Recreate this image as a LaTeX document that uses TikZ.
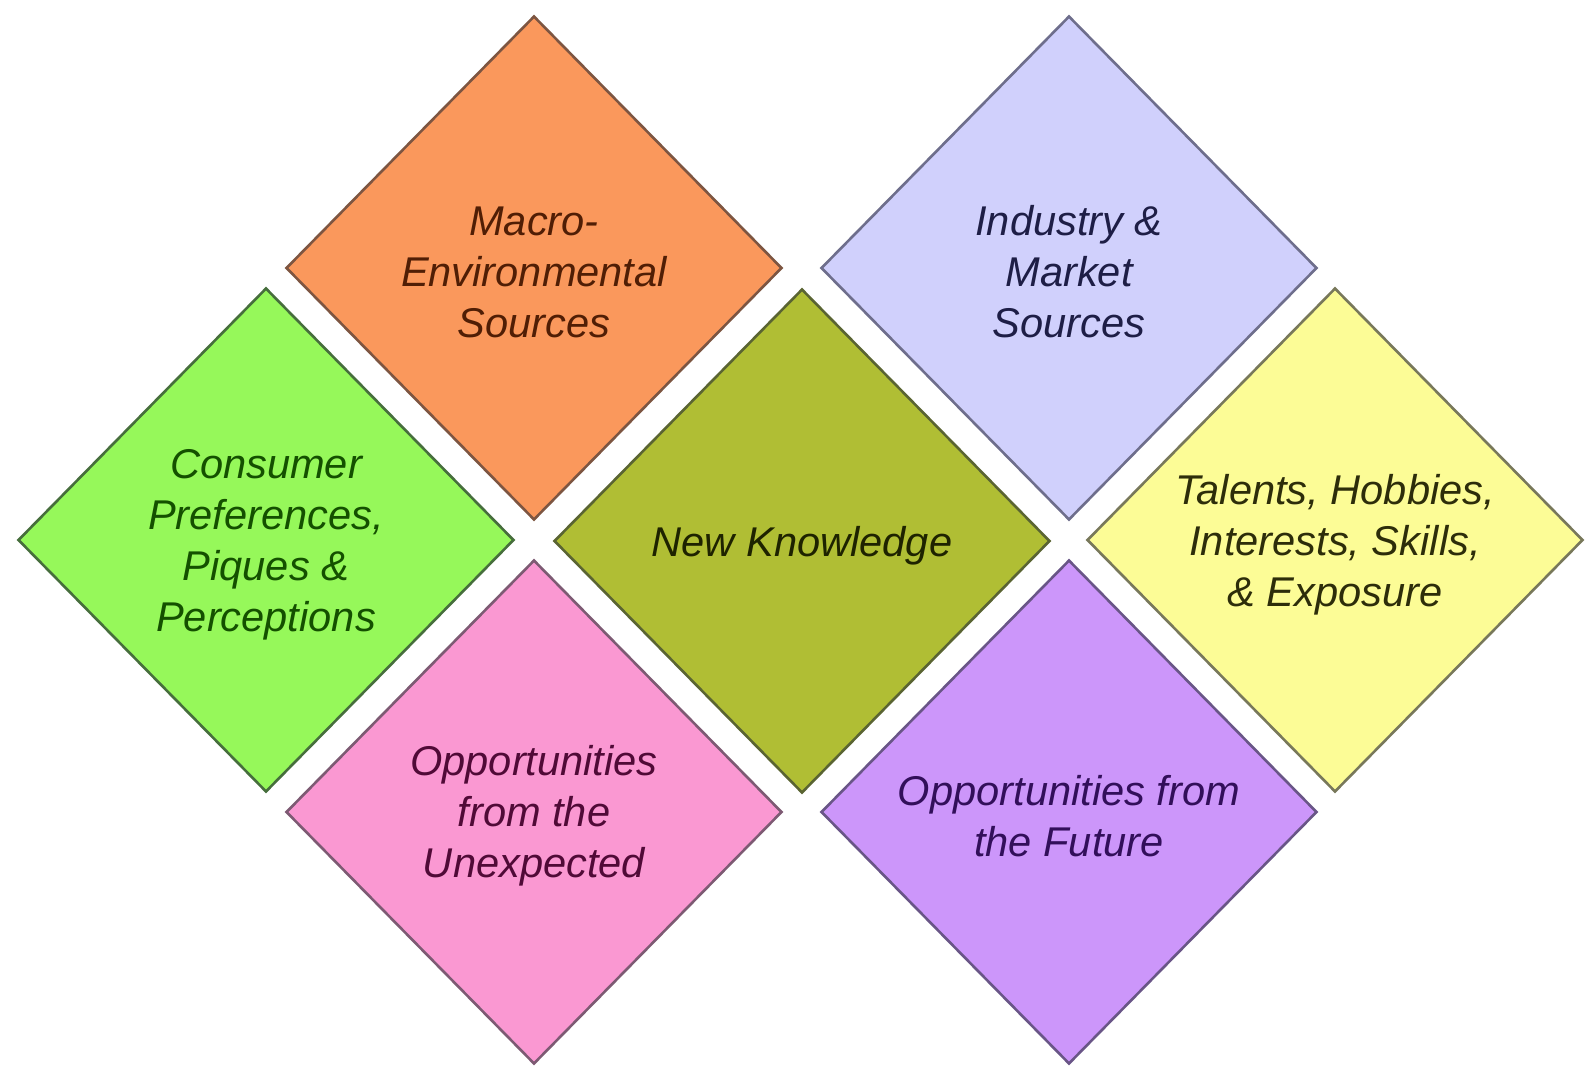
\documentclass[tikz,border=0pt]{standalone}
\usepackage{fontspec}
\setmainfont{Liberation Sans}
\usetikzlibrary{shapes.geometric}
\definecolor{orgF}{RGB}{250,152,92}
\definecolor{orgD}{RGB}{125,85,65}
\definecolor{orgT}{RGB}{80,30,5}
\definecolor{lavF}{RGB}{208,208,252}
\definecolor{lavD}{RGB}{110,110,140}
\definecolor{lavT}{RGB}{30,30,70}
\definecolor{grnF}{RGB}{150,248,90}
\definecolor{grnD}{RGB}{70,110,60}
\definecolor{grnT}{RGB}{20,80,0}
\definecolor{oliF}{RGB}{176,190,52}
\definecolor{oliD}{RGB}{90,100,50}
\definecolor{oliT}{RGB}{30,35,0}
\definecolor{yelF}{RGB}{252,252,150}
\definecolor{yelD}{RGB}{120,120,90}
\definecolor{yelT}{RGB}{45,45,10}
\definecolor{pnkF}{RGB}{250,152,210}
\definecolor{pnkD}{RGB}{125,90,115}
\definecolor{pnkT}{RGB}{80,10,55}
\definecolor{purF}{RGB}{204,150,250}
\definecolor{purD}{RGB}{105,85,135}
\definecolor{purT}{RGB}{50,15,90}
\tikzset{
  gem/.style={shape=diamond, inner sep=0pt, minimum width=496pt, minimum height=504pt,
    line width=2.6pt},
  gemtext/.style={inner sep=0pt, align=center,
    font=\fontsize{41.6}{51}\selectfont\itshape}
}
\begin{document}
\begin{tikzpicture}[x=1pt,y=-1pt]
\useasboundingbox[fill=white] (0,0) rectangle (1585,1066);
\node[gem, fill=orgF, draw=orgD] (macro) at (534,268) {};
\node[gem, fill=lavF, draw=lavD] (industry) at (1069,268) {};
\node[gem, fill=grnF, draw=grnD] (consumer) at (266,540) {};
\node[gem, fill=oliF, draw=oliD] (newk) at (802,541) {};
\node[gem, fill=yelF, draw=yelD] (talents) at (1335,540) {};
\node[gem, fill=pnkF, draw=pnkD] (unexp) at (534,812) {};
\node[gem, fill=purF, draw=purD] (future) at (1069,812) {};
\node[gemtext, text=orgT] (macroT) at ([yshift=-4pt]macro.center) {Macro-\\Environmental\\Sources};
\node[gemtext, text=lavT] (industryT) at ([yshift=-4pt]industry.center) {Industry \&\\Market\\Sources};
\node[gemtext, text=grnT] (consumerT) at ([yshift=-5pt]consumer.center) {Consumer\\Preferences,\\Piques \&\\Perceptions};
\node[gemtext, text=oliT] (newkT) at ([yshift=-5pt]newk.center) {New Knowledge};
\node[gemtext, text=yelT] (talentsT) at ([yshift=-5pt]talents.center) {Talents, Hobbies,\\Interests, Skills,\\\& Exposure};
\node[gemtext, text=pnkT] (unexpT) at ([yshift=-4pt]unexp.center) {Opportunities\\from the\\Unexpected};
\node[gemtext, text=purT] (futureT) at ([yshift=-4pt]future.center) {Opportunities from\\the Future};
\end{tikzpicture}
\end{document}
